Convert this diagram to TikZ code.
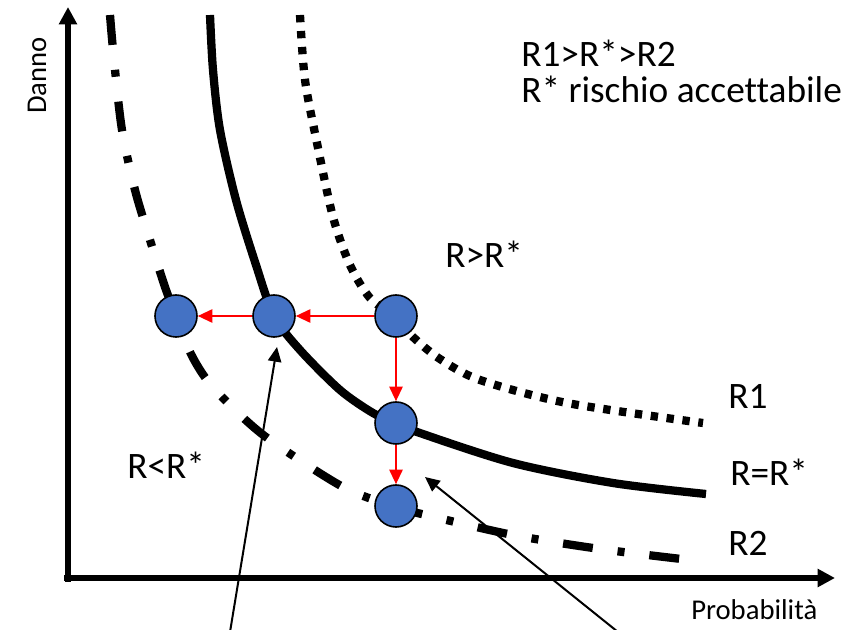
\documentclass[tikz,border=0pt]{standalone}
\usepackage{fontspec}
\setmainfont{Carlito}[Ligatures=NoCommon]
\usetikzlibrary{arrows.meta}
\definecolor{ballblue}{HTML}{4472C4}
\tikzset{
  axis/.style={line width=4pt,-{Triangle[length=13pt,width=13pt]}},
  curve/.style={line width=6.2pt},
  rone/.style={curve,dash pattern=on 5.5pt off 6.5pt},
  rtwo/.style={curve,dash pattern=on 22.5pt off 18.75pt on 5.25pt off 18.75pt},
  ball/.style={circle,draw=black,line width=1.2pt,fill=ballblue,minimum size=31.5pt,inner sep=0pt},
  redarr/.style={red,line width=1.5pt,-{Triangle[length=11pt,width=10pt]}},
  blkarr/.style={black,line width=1.5pt,-{Triangle[length=11pt,width=10pt]}},
  big/.style={font=\fontsize{28}{33}\selectfont,inner sep=0pt},
  small/.style={font=\fontsize{21.5}{25}\selectfont,inner sep=0pt}
}
\begin{document}
\begin{tikzpicture}[x=0.75pt,y=-0.75pt]
\useasboundingbox (0,0) rectangle (864,630);
% axes
\coordinate (o1) at (68,582);
\coordinate (ytip) at (68,7);
\coordinate (o2) at (64,578);
\coordinate (xtip) at (835,578);
\draw[axis] (o1) -- (ytip);
\draw[axis] (o2) -- (xtip);
% curves
\draw[rtwo] plot[smooth] coordinates {(110,15) (114,60) (122,130) (135,190) (150,240) (165,287) (176,316) (190,352) (207,380) (235,410) (270,440) (343,487) (396,507) (430,516) (513,535) (600,549) (690,560)};
\draw[curve] plot[smooth] coordinates {(210,15) (213,70) (220,130) (236,200) (256,265) (274,316) (300,350) (340,390) (373,413) (396,423) (417,432) (513,463) (613,483) (706,494)};
\draw[rone] plot[smooth] coordinates {(300,15) (305,80) (317,143) (333,217) (350,265) (370,298) (396,318) (413,337) (440,359) (480,380) (567,403) (703,423)};
% balls
\node[ball] (b1) at (176,316) {};
\node[ball] (b2) at (274,316) {};
\node[ball] (b3) at (396,316) {};
\node[ball] (b4) at (396,423) {};
\node[ball] (b5) at (396,506) {};
\draw[redarr] (b3) -- (b2);
\draw[redarr] (b2) -- (b1);
\draw[redarr] (b3) -- (b4);
\draw[redarr] (b4) -- (b5);
% pointer arrows
\coordinate (p1) at (230,632);
\coordinate (t1) at (277,347);
\coordinate (p2) at (618,632);
\coordinate (t2) at (425,477);
\draw[blkarr] (p1) -- (t1);
\draw[blkarr] (p2) -- (t2);
% labels
\node[big,anchor=base west] (l1) at (521,67) {R1>R*>R2};
\node[big,anchor=base west] (l2) at (521,103) {R* rischio accettabile};
\node[big,anchor=base west] (gt) at (445,268) {R>R*};
\node[big,anchor=base west] (lt) at (127,479) {R<R*};
\node[big,anchor=base west] (r1) at (728,409) {R1};
\node[big,anchor=base west] (rs) at (730,486) {R=R*};
\node[big,anchor=base west] (r2) at (728,556) {R2};
\node[small,anchor=base west] (px) at (691,619) {Probabilità};
\node[small,anchor=base west,rotate=90] (dy) at (46,114) {Danno};
\end{tikzpicture}
\end{document}
